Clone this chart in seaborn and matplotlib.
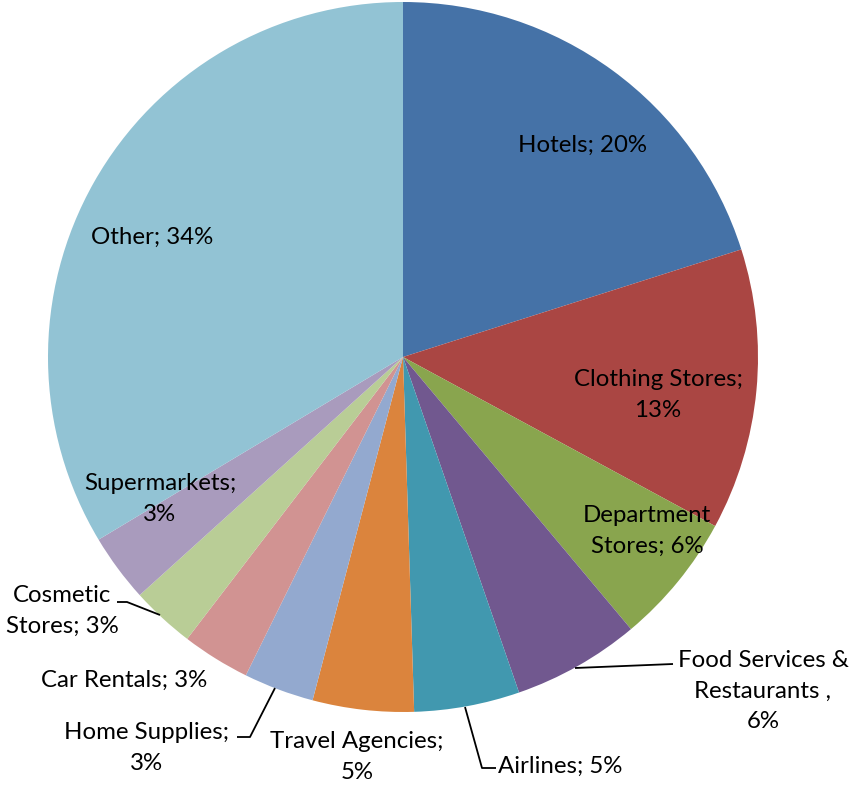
import matplotlib
matplotlib.use("Agg")
import matplotlib.pyplot as plt
import seaborn as sns

# Share of transactions by merchant category (percent)
categories = ["Hotels", "Clothing Stores", "Department Stores",
              "Food Services & Restaurants", "Airlines", "Travel Agencies",
              "Home Supplies", "Car Rentals", "Cosmetic Stores",
              "Supermarkets", "Other"]
shares = [20.1, 12.8, 6.0, 5.8, 4.8, 4.6, 3.2, 3.1, 2.9, 3.1, 33.6]

# How each category name is wrapped and joined to its percentage
name_lines = ["Hotels", "Clothing Stores", "Department\nStores",
              "Food Services &\nRestaurants", "Airlines", "Travel Agencies",
              "Home Supplies", "Car Rentals", "Cosmetic\nStores",
              "Supermarkets", "Other"]
separators = ["; ", ";\n", "; ", " ,\n", "; ", ";\n", ";\n", "; ", "; ",
              ";\n", "; "]

colors = ["#4572A7", "#AA4643", "#89A54E", "#71588F", "#4198AF", "#DB843D",
          "#93A9CF", "#D19392", "#B9CD96", "#A99BBD", "#92C3D4"]

sns.set_theme(style="white")
plt.rcParams["font.family"] = ["Lato", "DejaVu Sans"]

W, H = 850, 785
CX, CY, R = 403, 357, 355


def to_data(x, y):
    """Pixel position in the figure -> pie data coordinates."""
    return (x - CX) / R, (CY - y) / R


fig = plt.figure(figsize=(W / 100, H / 100), dpi=100)
ax = fig.add_axes([0, 0, 1, 1])
ax.pie(shares, colors=sns.color_palette(colors), startangle=90,
       counterclock=False, radius=1, center=(0, 0),
       wedgeprops=dict(linewidth=0))
ax.set_xlim(-CX / R, (W - CX) / R)
ax.set_ylim(-(H - CY) / R, CY / R)
ax.set_aspect("equal")
ax.axis("off")

# Label anchor points (text block centres)
label_pos = [(583, 145), (658, 395), (647, 531), (763, 691), (560, 766),
             (357, 757), (147, 748), (124, 680), (62, 611), (160, 499),
             (152, 237)]

for name, sep, v, (px, py) in zip(name_lines, separators, shares, label_pos):
    x, y = to_data(px, py)
    ax.text(x, y, f"{name}{sep}{v:.0f}%", ha="center", va="center",
            fontsize=17.3, color="black", linespacing=1.55)

# Leader lines for the labels placed outside the pie
leaders = [
    [(575, 668), (673, 664)],               # Food Services
    [(465, 707), (482, 768), (496, 768)],   # Airlines
    [(275, 688), (250, 737), (237, 737)],   # Home Supplies
    [(160, 615), (127, 602), (117, 602)],   # Cosmetic Stores
]
for pts in leaders:
    xs, ys = zip(*[to_data(px, py) for px, py in pts])
    ax.plot(xs, ys, color="black", linewidth=1.3, solid_capstyle="butt")

fig.savefig("out.png", dpi=100)
